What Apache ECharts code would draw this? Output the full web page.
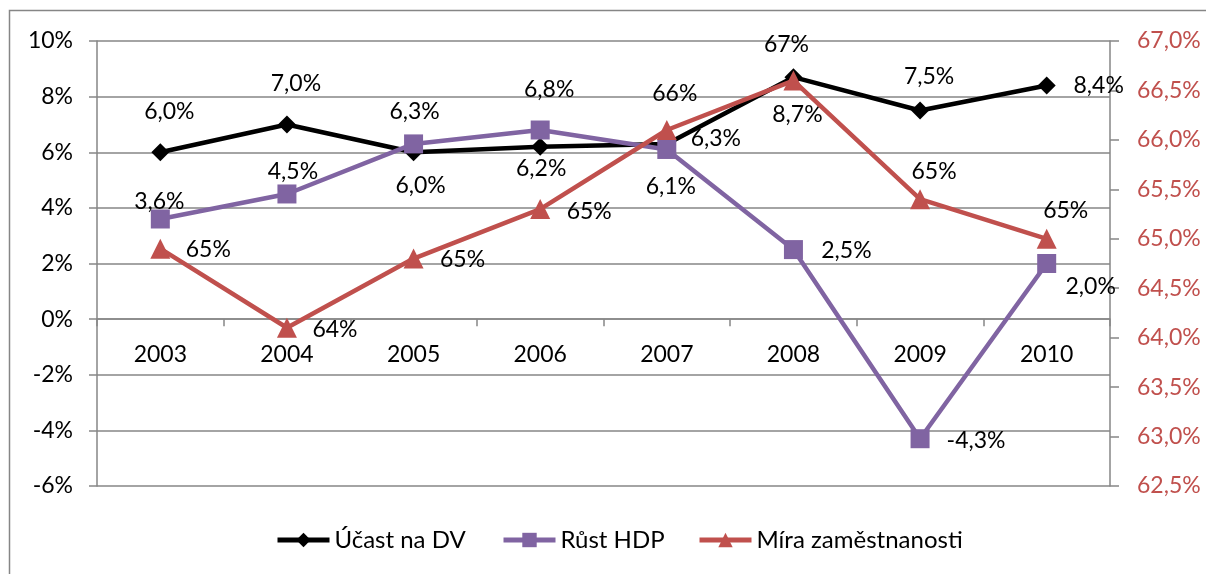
<!DOCTYPE html>
<html>
<head>
<meta charset="utf-8">
<script src="https://cdn.jsdelivr.net/npm/echarts@6/dist/echarts.min.js"></script>
<style>
html,body{margin:0;padding:0;background:#fff;}
#chart{width:1206px;height:574px;}
</style>
</head>
<body>
<div id="chart"></div>
<script>
const categories = ['2003','2004','2005','2006','2007','2008','2009','2010'];
const ucastDV = [6.0, 7.0, 6.0, 6.2, 6.3, 8.7, 7.5, 8.4];
const rustHDP = [3.6, 4.5, 6.3, 6.8, 6.1, 2.5, -4.3, 2.0];
const miraZam = [64.9, 64.1, 64.8, 65.3, 66.1, 66.6, 65.4, 65.0];
const seriesNames = ['Účast na DV', 'Růst HDP', 'Míra zaměstnanosti'];
const leftTicks = [-6, -4, -2, 0, 2, 4, 6, 8, 10];
const rightTicks = [62.5, 63.0, 63.5, 64.0, 64.5, 65.0, 65.5, 66.0, 66.5, 67.0];

// label placement (layout only)
const dvOff  = [[9,-41],[9,-41],[7,33],[1,22],[49,-5],[4,37],[9,-34],[52,0]];
const hdpOff = [[-1,-17],[6,-22],[1,-32],[9,-40],[4,37],[53,1],[56,2],[44,23]];
const miraOff= [[48,1],[48,2],[49,1],[49,2],[8,-36],[-7,-36],[14,-28],[19,-28]];
const legendLeft = [270, 496, 692];

const FONT = 'Lato';
const fmt1 = v => v.toFixed(1).replace('.', ',') + '%';
const fmt0 = v => Math.round(v) + '%';

function mkData(vals, offs, f) {
  return vals.map((v, i) => ({
    value: v,
    label: {
      show: true, position: 'inside', align: 'center', verticalAlign: 'middle',
      offset: offs[i], formatter: () => f(v),
      color: '#000', fontFamily: FONT, fontSize: 23
    }
  }));
}

const W = 1206, H = 574;
const grid = {left: 97, right: 96, top: 41, bottom: 88};
const plotH = H - grid.top - grid.bottom;
const yMin = leftTicks[0], yMax = leftTicks[leftTicks.length - 1];
const zeroOffset = -plotH * (0 - yMin) / (yMax - yMin);

const chart = echarts.init(document.getElementById('chart'), null, {renderer: 'canvas'});
const gray = '#868686';
const colors = ['#000000', '#8064A2', '#C0504D'];
chart.setOption({
  animation: false,
  backgroundColor: '#fff',
  graphic: [{
    type: 'rect', shape: {x: 9.5, y: 10.5, width: 1400, height: 800},
    style: {fill: 'none', stroke: gray, lineWidth: 1.5}, silent: true, z: 0
  }],
  grid: Object.assign({containLabel: false}, grid),
  legend: seriesNames.map((n, i) => ({
    left: legendLeft[i], top: 523, itemWidth: 52, itemHeight: 18, itemGap: 0,
    lineStyle: {width: 5},
    textStyle: {fontFamily: FONT, fontSize: 24, color: '#000'},
    data: [n]
  })),
  xAxis: {
    type: 'category', data: categories, boundaryGap: true, position: 'bottom',
    offset: zeroOffset,
    axisLine: {show: true, onZero: false, lineStyle: {color: gray, width: 1.5}},
    axisTick: {show: true, length: 7, lineStyle: {color: gray, width: 1.5}},
    axisLabel: {fontFamily: FONT, fontSize: 23, color: '#000', margin: 24}
  },
  yAxis: [{
    type: 'value', min: yMin, max: yMax, interval: 2,
    axisLine: {show: true, lineStyle: {color: gray, width: 1.5}},
    axisTick: {show: true, length: 8, lineStyle: {color: gray, width: 1.5}},
    splitLine: {show: true, lineStyle: {color: gray, width: 1.5}},
    axisLabel: {fontFamily: FONT, fontSize: 23, color: '#000', margin: 24, formatter: v => v + '%'}
  }, {
    type: 'value', min: rightTicks[0], max: rightTicks[rightTicks.length-1], interval: 0.5,
    position: 'right',
    axisLine: {show: true, lineStyle: {color: gray, width: 1.5}},
    axisTick: {show: true, length: 9, lineStyle: {color: gray, width: 1.5}},
    splitLine: {show: false},
    axisLabel: {fontFamily: FONT, fontSize: 23, color: '#C0504D', margin: 27, formatter: v => fmt1(v)}
  }],
  series: [{
    name: seriesNames[0], type: 'line', yAxisIndex: 0, z: 3,
    data: mkData(ucastDV, dvOff, fmt1),
    symbol: 'diamond', symbolSize: 18,
    itemStyle: {color: colors[0]}, lineStyle: {color: colors[0], width: 4.5}
  }, {
    name: seriesNames[1], type: 'line', yAxisIndex: 0, z: 4,
    data: mkData(rustHDP, hdpOff, fmt1),
    symbol: 'rect', symbolSize: 19,
    itemStyle: {color: colors[1]}, lineStyle: {color: colors[1], width: 4.5}
  }, {
    name: seriesNames[2], type: 'line', yAxisIndex: 1, z: 5,
    data: mkData(miraZam, miraOff, fmt0),
    symbol: 'triangle', symbolSize: 20,
    itemStyle: {color: colors[2]}, lineStyle: {color: colors[2], width: 4.5}
  }]
});
</script>
</body>
</html>
